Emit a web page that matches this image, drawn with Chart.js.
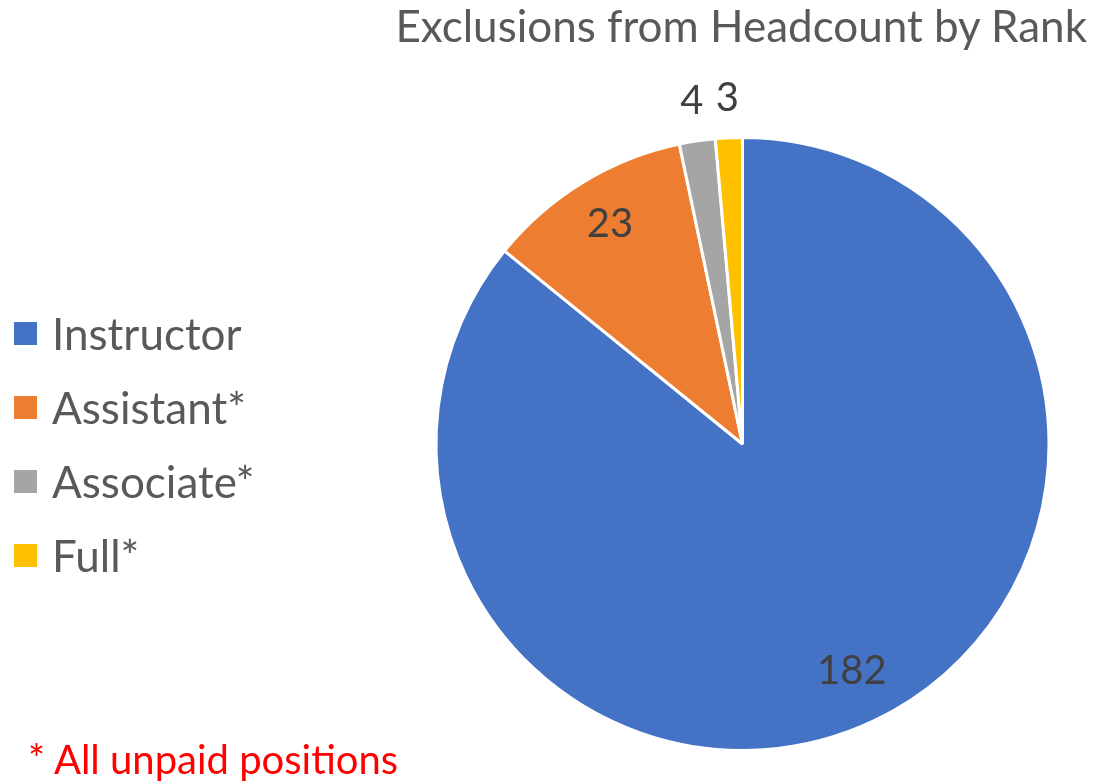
<!DOCTYPE html>
<html>
<head>
<meta charset="utf-8">
<title>Exclusions from Headcount by Rank</title>
<script src="https://cdn.jsdelivr.net/npm/chart.js@4.4.1/dist/chart.umd.min.js"></script>
<style>
  body { margin: 0; background: #fff; font-family: Lato, "Open Sans", sans-serif; }
  #wrap { position: relative; width: 1094px; height: 781px; overflow: hidden; }
  #judul { position: absolute; right: 7px; top: 3px; font-size: 44px; line-height: 1; color: #595959; white-space: nowrap; }
  #legenda { position: absolute; left: 14px; top: 296px; }
  .item { height: 74px; display: flex; align-items: center; font-size: 44px; color: #595959; white-space: nowrap; }
  .kotak { width: 23px; height: 23px; margin-right: 15px; flex: none; }
  #catatan { position: absolute; left: 28px; top: 739px; font-size: 40px; line-height: 1; color: #ff0000; white-space: nowrap; }
</style>
</head>
<body>
<div id="wrap">
  <canvas id="rankChart" width="1094" height="781"></canvas>
  <div id="judul">Exclusions from Headcount by Rank</div>
  <div id="legenda"></div>
  <div id="catatan">* All unpaid positions</div>
</div>
<script>
// Data dari gambar
const labels = ["Instructor", "Assistant*", "Associate*", "Full*"];
const jumlah = [182, 23, 4, 3];
const warna = ["#4472C4", "#ED7D31", "#A5A5A5", "#FFC000"];

// Legend manual di kiri
const legenda = document.getElementById("legenda");
labels.forEach((nama, i) => {
  const item = document.createElement("div");
  item.className = "item";
  const kotak = document.createElement("span");
  kotak.className = "kotak";
  kotak.style.background = warna[i];
  item.appendChild(kotak);
  item.appendChild(document.createTextNode(nama));
  legenda.appendChild(item);
});

// Plugin untuk menulis angka di tiap irisan
const labelIrisan = {
  id: "labelIrisan",
  afterDatasetsDraw(chart) {
    const ctx = chart.ctx;
    const meta = chart.getDatasetMeta(0);
    const total = jumlah.reduce((sum, val) => sum + val, 0);
    ctx.save();
    ctx.font = "40px Lato";
    ctx.fillStyle = "#404040";
    ctx.textAlign = "center";
    ctx.textBaseline = "middle";
    meta.data.forEach((arc, i) => {
      const p = arc.getProps(["x", "y", "startAngle", "endAngle", "outerRadius"], true);
      const tengah = (p.startAngle + p.endAngle) / 2;
      const r = jumlah[i] / total > 0.05 ? p.outerRadius * 0.83 : p.outerRadius * 1.12;
      ctx.fillText(jumlah[i], p.x + Math.cos(tengah) * r, p.y + Math.sin(tengah) * r - 3);
    });
    ctx.restore();
  },
};

const ctx = document.getElementById("rankChart").getContext("2d");
new Chart(ctx, {
  type: "pie",
  data: {
    labels: labels,
    datasets: [
      {
        data: jumlah,
        backgroundColor: warna,
        borderColor: "#ffffff",
        borderWidth: 3,
      },
    ],
  },
  options: {
    responsive: false,
    animation: false,
    layout: {
      padding: { top: 136, bottom: 29, left: 434, right: 43 },
    },
    plugins: {
      legend: { display: false },
      tooltip: { enabled: false },
    },
  },
  plugins: [labelIrisan],
});
</script>
</body>
</html>
